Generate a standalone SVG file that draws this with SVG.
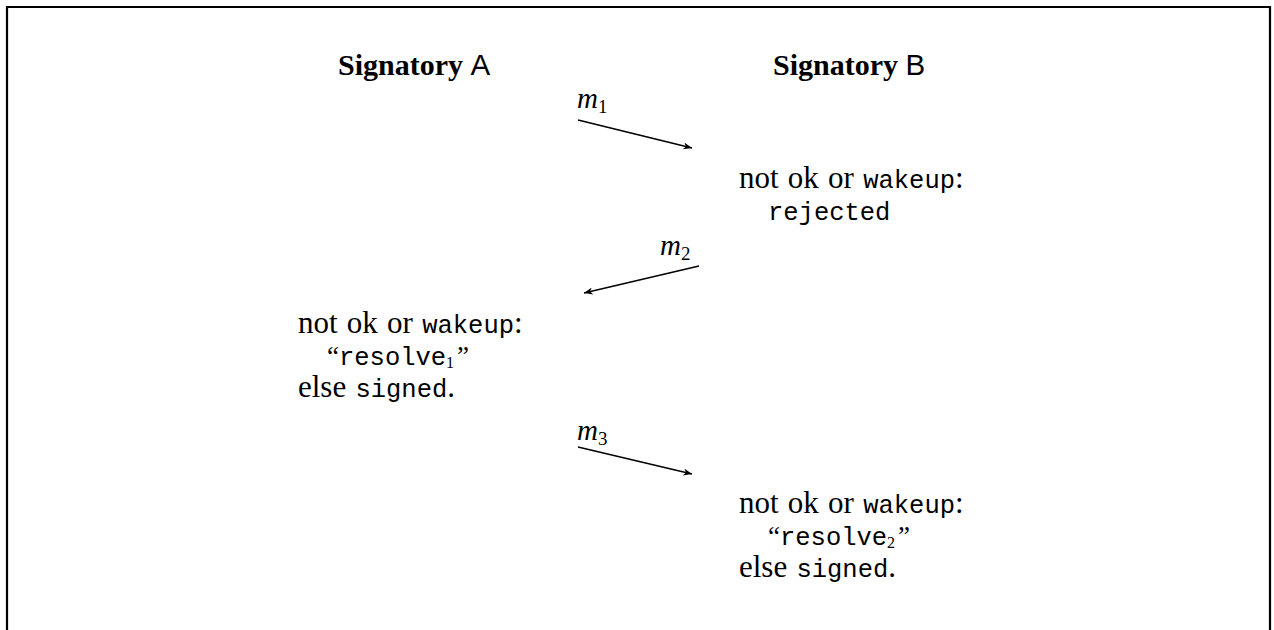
<svg xmlns="http://www.w3.org/2000/svg" width="1274" height="630" viewBox="0 0 1274 630">
<style>
.rm{font-family:"Liberation Serif",serif;font-size:31px;word-spacing:1.5px;fill:#000}
.q{font-family:"Liberation Serif",serif;font-size:27px;fill:#000}
.bd{font-family:"Liberation Serif",serif;font-size:30px;font-weight:bold}
.sf{font-family:"Liberation Sans",sans-serif;font-size:29.5px;font-weight:normal}
.tt{font-family:"Liberation Mono",monospace;font-size:25.5px;word-spacing:0}
.mi{font-family:"Liberation Serif",serif;font-style:italic;font-size:29px}
.sub{font-family:"Liberation Serif",serif;font-size:19px;font-style:normal}
.ttsub{font-family:"Liberation Serif",serif;font-size:16px}
.ln{stroke:#000;stroke-width:1.5;fill:none}
</style>
<defs>
<marker id="ah" viewBox="0 0 10 8" refX="10" refY="4" markerWidth="11" markerHeight="7" markerUnits="userSpaceOnUse" orient="auto">
<path d="M0,0 L10,4 L0,8 L3,4 Z" fill="#000"/>
</marker>
</defs>
<rect width="1274" height="630" fill="#fff"/>
<path d="M7,640 V7 H1270 V640" stroke="#000" stroke-width="2.2" fill="none"/>
<g id="signatoryA"><text class="bd" x="338" y="75">Signatory <tspan class="sf">A</tspan></text></g>
<g id="signatoryB"><text class="bd" x="773" y="75">Signatory <tspan class="sf">B</tspan></text></g>
<g id="connectors">
<line class="ln" x1="578" y1="120" x2="692" y2="148" marker-end="url(#ah)"/>
<line class="ln" x1="699" y1="266" x2="584" y2="293" marker-end="url(#ah)"/>
<line class="ln" x1="578" y1="447" x2="692" y2="474" marker-end="url(#ah)"/>
<text class="mi" x="577" y="108">m<tspan class="sub" dy="5">1</tspan></text>
<text class="mi" x="660" y="255">m<tspan class="sub" dy="5">2</tspan></text>
<text class="mi" x="577" y="440">m<tspan class="sub" dy="5">3</tspan></text>
</g>
<g id="B1">
<text class="rm" x="739" y="188">not ok or <tspan class="tt">wakeup</tspan>:</text>
<text class="tt" x="768" y="220">rejected</text>
</g>
<g id="A1">
<text class="rm" x="298" y="333">not ok or <tspan class="tt">wakeup</tspan>:</text>
<text class="q" x="327" y="365">“<tspan class="tt">resolve</tspan><tspan class="ttsub" dy="3">1</tspan><tspan dy="-3" dx="3">”</tspan></text>
<text class="rm" x="298" y="397">else <tspan class="tt">signed</tspan>.</text>
</g>
<g id="B2">
<text class="rm" x="739" y="513">not ok or <tspan class="tt">wakeup</tspan>:</text>
<text class="q" x="768" y="545">“<tspan class="tt">resolve</tspan><tspan class="ttsub" dy="3">2</tspan><tspan dy="-3" dx="3">”</tspan></text>
<text class="rm" x="739" y="577">else <tspan class="tt">signed</tspan>.</text>
</g>
</svg>
